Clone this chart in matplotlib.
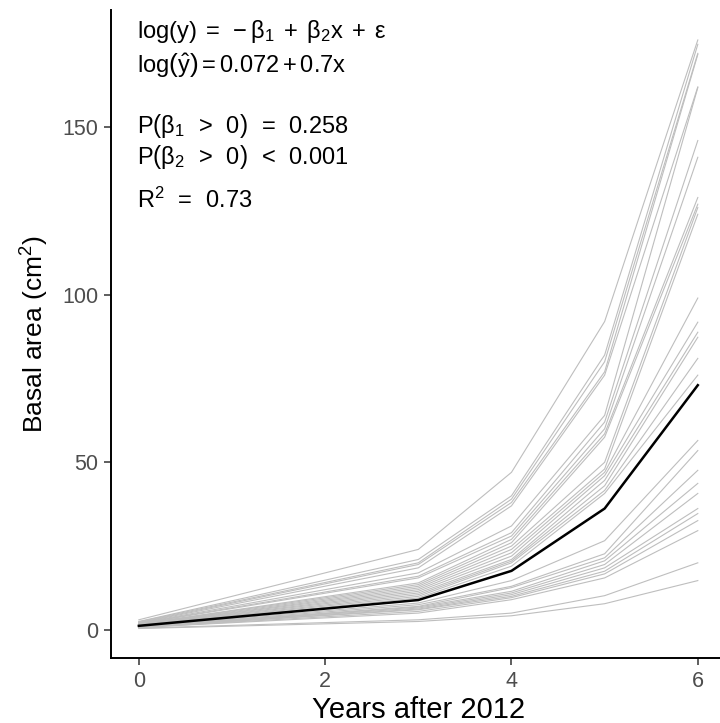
import numpy as np
import matplotlib
matplotlib.use("Agg")
from matplotlib import pyplot as plt

plt.rcParams['font.family'] = ['Liberation Sans', 'DejaVu Sans']
plt.rcParams['mathtext.fontset'] = 'custom'
plt.rcParams['mathtext.rm'] = 'Liberation Sans'
plt.rcParams['mathtext.it'] = 'Liberation Sans'

# Years after 2012 (measurement years)
years = [0, 3, 4, 5, 6]

# Basal area (cm2) of each tree, in the order of years
tree_areas = [
    [3.0, 24.0, 47.0, 92.0, 176.0],
    [2.5, 21.0, 40.0, 82.0, 174.7],
    [2.4, 20.0, 39.0, 80.0, 172.0],
    [2.2, 19.5, 38.0, 77.0, 171.7],
    [2.1, 18.5, 37.0, 76.0, 162.0],
    [2.0, 17.0, 31.0, 64.0, 161.8],
    [1.9, 16.0, 29.0, 62.0, 146.0],
    [1.8, 15.5, 28.0, 60.0, 141.0],
    [1.7, 14.0, 27.0, 58.5, 129.0],
    [1.7, 13.5, 26.0, 57.5, 127.0],
    [1.6, 13.0, 25.0, 50.0, 126.0],
    [1.5, 12.5, 24.0, 48.0, 124.0],
    [1.5, 12.0, 23.0, 47.0, 99.0],
    [1.4, 11.5, 22.0, 46.0, 91.8],
    [1.4, 11.0, 21.0, 44.6, 88.8],
    [1.3, 10.5, 20.5, 43.0, 87.3],
    [1.3, 10.0, 20.0, 41.6, 81.0],
    [1.2, 9.5, 19.0, 40.7, 76.0],
    [1.1, 8.0, 14.7, 26.6, 56.5],
    [1.0, 7.5, 13.0, 22.7, 53.5],
    [1.0, 7.0, 12.6, 21.5, 47.6],
    [0.9, 6.8, 11.5, 20.6, 43.7],
    [0.9, 6.5, 11.0, 19.5, 40.7],
    [0.8, 6.2, 10.5, 18.5, 36.2],
    [0.8, 6.0, 10.0, 17.5, 34.7],
    [0.7, 5.5, 9.6, 16.7, 32.6],
    [0.7, 5.0, 9.0, 15.5, 29.6],
    [0.5, 3.0, 5.0, 10.2, 20.0],
    [0.4, 2.5, 4.2, 7.8, 14.7],
]

# Fitted curve
fit_area = [1.2, 8.9, 17.6, 36.2, 73.0]

fig = plt.figure(figsize=(7.2, 7.23), dpi=100)
ax = fig.add_axes([0.154, 0.0899, 0.854, 0.8956])

for a in tree_areas:
    ax.plot(years, a, color='#BEBEBE', linewidth=0.8)
ax.plot(years, fit_area, color='black', linewidth=1.8)

ax.set_xlim(-0.3, 6.3)
ax.set_ylim(-8.4, 184.8)
ax.set_xticks([0, 2, 4, 6])
ax.set_yticks([0, 50, 100, 150])

for s in ['top', 'right']:
    ax.spines[s].set_visible(False)
for s in ['left', 'bottom']:
    ax.spines[s].set_linewidth(1.4)
    ax.spines[s].set_color('black')

ax.tick_params(axis='both', length=5, width=1.1, color='#333333',
               labelcolor='#4D4D4D', labelsize=15.5, pad=4)

ax.set_xlabel("Years after 2012", fontsize=21, labelpad=3)
ax.set_ylabel("Basal area (cm$^2$)", fontsize=19, labelpad=8)

# Model summary
txt_kw = dict(transform=ax.transAxes, ha='left', va='center', fontsize=17)
ax.text(0.042, 0.968, r"$\mathrm{log(y)\;=\;-\beta_1\;+\;\beta_2 x\;+\;\epsilon}$", **txt_kw)
ax.text(0.042, 0.915, r"$\mathrm{log\left(\hat{y}\right) = 0.072 + 0.7x}$", **txt_kw)
ax.text(0.042, 0.822, r"$\mathrm{P\left(\beta_1\enspace>\enspace0\right)\enspace=\enspace0.258}$", **txt_kw)
ax.text(0.042, 0.774, r"$\mathrm{P\left(\beta_2\enspace>\enspace0\right)\enspace<\enspace0.001}$", **txt_kw)
ax.text(0.042, 0.707, r"$\mathrm{R^2\enspace=\enspace0.73}$", **txt_kw)

plt.savefig("out.png", dpi=100)
